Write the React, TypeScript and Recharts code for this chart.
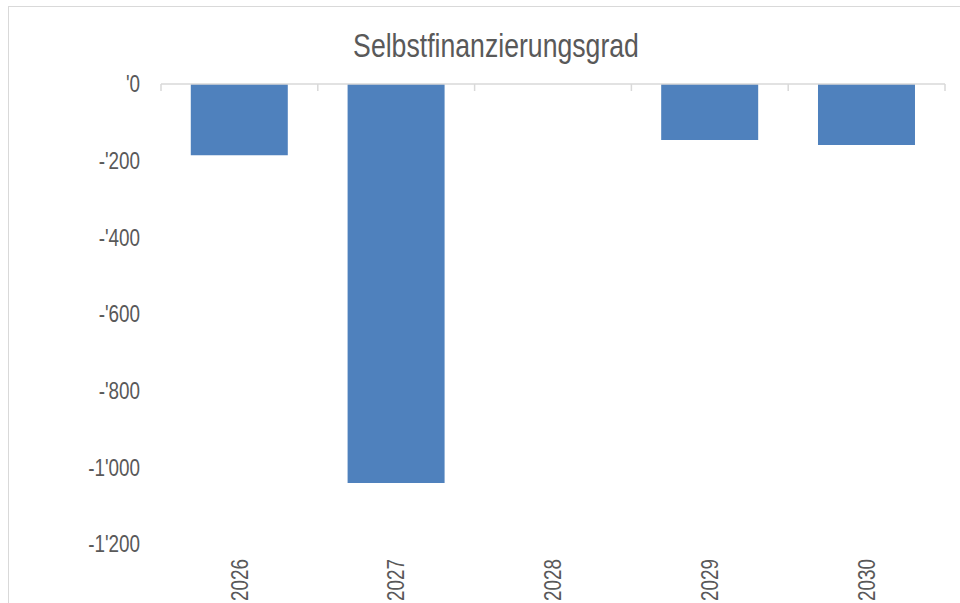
import { Bar, BarChart, ReferenceLine, XAxis, YAxis } from "recharts"

const years = ["2026", "2027", "2028", "2029", "2030"]
const selbstfinanzierung = [-186, -1041, 0, -146, -159]
const yTicks = [0, -200, -400, -600, -800, -1000, -1200]

const data = years.map((year, i) => ({ year, value: selbstfinanzierung[i] }))

// no narrow font installed, so squeeze Liberation Sans like Arial Narrow
const FONT = "'Liberation Sans', Arial, sans-serif"
const NARROW = 0.82
const TEXT = "#595959"
const LINE = "#d9d9d9"

// swiss style: '0, -'200, -1'000
function formatValue(v: number) {
  const abs = Math.abs(v)
  const thousands = Math.floor(abs / 1000)
  const rest = abs % 1000
  const body = thousands > 0 ? `${thousands}'${String(rest).padStart(3, "0")}` : `'${rest}`
  return (v < 0 ? "-" : "") + body
}

const YearTick = (props: any) => {
  const { x, y, payload } = props
  return (
    <text
      transform={`translate(${x} ${y}) rotate(-90) scale(${NARROW} 1)`}
      textAnchor="end"
      dominantBaseline="central"
      fill={TEXT}
      fontSize={23}
      fontFamily={FONT}
    >
      {payload.value}
    </text>
  )
}

const ValueTick = (props: any) => {
  const { x, y, payload } = props
  return (
    <text
      transform={`translate(${x} ${y}) scale(${NARROW} 1)`}
      textAnchor="end"
      dominantBaseline="central"
      fill={TEXT}
      fontSize={23}
      fontFamily={FONT}
    >
      {formatValue(payload.value)}
    </text>
  )
}

// zero line with the small tick marks between the categories
const ZeroAxis = (props: any) => {
  const { x1, x2, y1 } = props
  const step = (x2 - x1) / years.length
  const marks = years.map((_, i) => x1 + step * i).concat(x2)
  return (
    <g>
      <line x1={x1} x2={x2} y1={y1} y2={y1} stroke={LINE} strokeWidth={1.5} />
      {marks.map((mx, i) => (
        <line key={i} x1={mx} x2={mx} y1={y1} y2={y1 + 7} stroke={LINE} strokeWidth={1.5} />
      ))}
    </g>
  )
}

export default function App() {
  return (
    <div style={{ position: "absolute", left: 0, top: 0, width: 960, height: 603, overflow: "hidden", background: "#fff" }}>
      <div
        style={{
          position: "absolute",
          left: 8,
          top: 6,
          width: 1000,
          height: 700,
          borderLeft: `1px solid ${LINE}`,
          borderTop: `1px solid ${LINE}`,
        }}
      />
      <div style={{ position: "absolute", left: 0, top: 0 }}>
        <BarChart
          width={960}
          height={603}
          data={data}
          margin={{ top: 84, right: 15, bottom: 0, left: 0 }}
          barCategoryGap="19%"
        >
          <XAxis
            xAxisId="years"
            dataKey="year"
            orientation="bottom"
            height={59}
            axisLine={false}
            tickLine={false}
            tickMargin={9}
            interval={0}
            tick={<YearTick />}
          />
          <YAxis
            domain={[-1200, 0]}
            ticks={yTicks}
            width={161}
            axisLine={false}
            tickLine={false}
            tickMargin={15}
            tick={<ValueTick />}
          />
          <Bar xAxisId="years" dataKey="value" fill="#4f81bd" isAnimationActive={false} />
          <ReferenceLine xAxisId="years" y={0} shape={<ZeroAxis />} />
        </BarChart>
      </div>
      <svg width={960} height={603} style={{ position: "absolute", left: 0, top: 0, pointerEvents: "none" }}>
        <text
          transform={`translate(496 57) scale(${NARROW} 1)`}
          textAnchor="middle"
          fill={TEXT}
          fontSize={32.5}
          fontFamily={FONT}
        >
          Selbstfinanzierungsgrad
        </text>
      </svg>
    </div>
  )
}
